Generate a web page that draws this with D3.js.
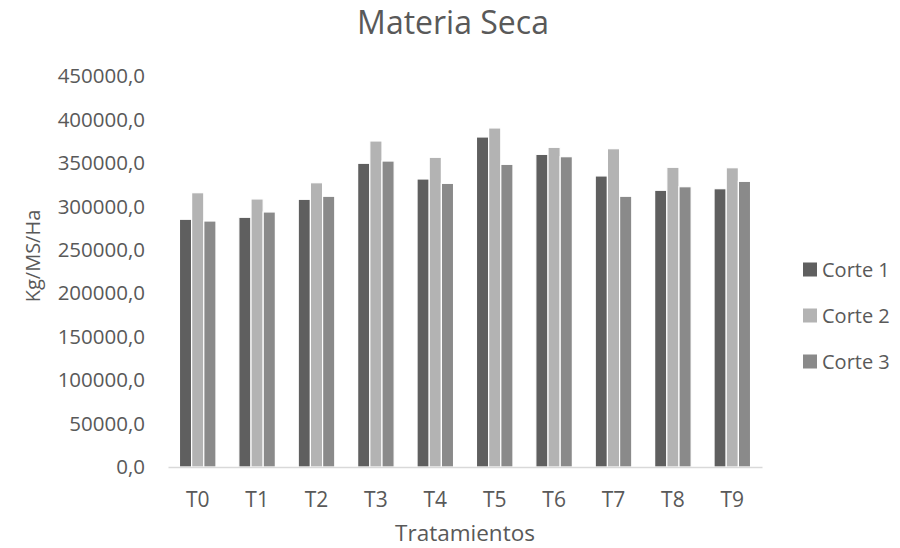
<!DOCTYPE html>
<html><head><meta charset="utf-8">
<script src="https://cdn.jsdelivr.net/npm/d3@7"></script>
<style>body{margin:0;background:#fff}svg{display:block}text{font-family:"Open Sans",sans-serif;fill:#595959}</style>
</head><body><svg id="c" width="900" height="548"></svg>
<script>
const categories = ["T0","T1","T2","T3","T4","T5","T6","T7","T8","T9"];
const seriesNames = ["Corte 1","Corte 2","Corte 3"];
const corte1 = [285400,287700,308400,349900,331800,380200,360200,335300,318800,320600];
const corte2 = [316000,308800,327500,375600,356800,390600,368300,366700,345300,344800];
const corte3 = [283400,293800,311900,352500,326800,348700,357500,311900,322900,329100];
const yTicks = [0,50000,100000,150000,200000,250000,300000,350000,400000,450000];
const colors = ["#5f5f5f","#b3b3b3","#8a8a8a"];

const series = [corte1, corte2, corte3];
const svg = d3.select("#c");
const plotL = 168, plotR = 762, plotT = 76.4, plotB = 467;

const x0 = d3.scaleBand().domain(categories).range([plotL, plotR]).paddingInner(0).paddingOuter(0);
const groupW = x0.bandwidth() * 0.615;
const x1 = d3.scaleBand().domain(seriesNames).range([0, groupW]);
const y = d3.scaleLinear().domain([0, 450000]).range([plotB, plotT]);

// bars
const g = svg.append("g");
categories.forEach((c, i) => {
  const gx = x0(c) + (x0.bandwidth() - groupW) / 2;
  seriesNames.forEach((s, j) => {
    g.append("rect")
      .attr("x", gx + x1(s))
      .attr("y", y(series[j][i]))
      .attr("width", x1.bandwidth())
      .attr("height", y(0) - y(series[j][i]))
      .attr("fill", colors[j])
      .attr("stroke", "#fff")
      .attr("stroke-width", 1.2);
  });
});

// x axis
const xAxis = d3.axisBottom(x0).tickSize(0).tickPadding(25);
const xg = svg.append("g").attr("transform", `translate(0,${plotB})`).call(xAxis);
xg.select(".domain").attr("stroke", "#d9d9d9").attr("stroke-width", 1.5);
xg.selectAll("text").style("font-size", "21px").attr("fill", "#595959").style("font-family", "'Open Sans',sans-serif");

// y axis labels
const yAxis = d3.axisLeft(y).tickValues(yTicks).tickSize(0).tickPadding(0)
  .tickFormat(d => d3.format(".1f")(d).replace(".", ","));
const yg = svg.append("g").attr("transform", `translate(145,0)`).call(yAxis);
yg.select(".domain").remove();
yg.selectAll("text").style("font-size", "20.5px").attr("fill", "#595959").style("font-family", "'Open Sans',sans-serif");

// title
svg.append("text").attr("x", 453).attr("y", 33.5).attr("text-anchor", "middle")
  .style("font-size", "32px").text("Materia Seca");
// axis titles
svg.append("text").attr("x", 465).attr("y", 541).attr("text-anchor", "middle")
  .style("font-size", "22.5px").text("Tratamientos");
svg.append("text").attr("transform", "translate(40,256) rotate(-90)").attr("text-anchor", "middle")
  .style("font-size", "20px").text("Kg/MS/Ha");

// legend
const leg = svg.append("g");
seriesNames.forEach((s, j) => {
  const cy = 269.5 + j * 46;
  leg.append("rect").attr("x", 803).attr("y", cy - 7).attr("width", 14).attr("height", 14).attr("fill", colors[j]);
  leg.append("text").attr("x", 822).attr("y", cy + 7).style("font-size", "20px").text(s);
});
</script></body></html>
